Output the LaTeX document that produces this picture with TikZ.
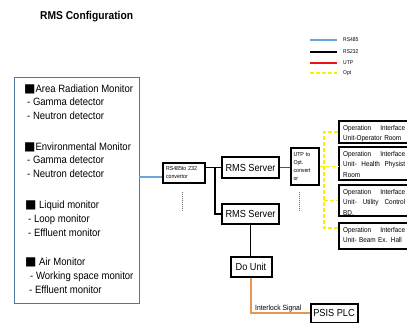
\documentclass[tikz,border=0pt]{standalone}
\usepackage{fontspec}
\setmainfont{Liberation Sans}[FakeStretch=0.9]
\newfontfamily\symfont{DejaVu Sans}
\definecolor{busblue}{RGB}{110,165,215}
\definecolor{frameblue}{RGB}{80,120,165}
\definecolor{utpred}{RGB}{235,20,20}
\definecolor{optyellow}{RGB}{250,240,0}
\definecolor{sigorange}{RGB}{232,150,80}
\definecolor{dotgray}{RGB}{110,110,110}
\newcommand\sqmark{{\symfont\fontsize{12}{12}\selectfont■}}
\begin{document}
\begin{tikzpicture}[x=1pt,y=-1pt,
  every node/.style={inner sep=0pt},
  unitbox/.style={draw=black,line width=2pt,fill=white},
  thinbox/.style={draw=black,line width=1.3pt,fill=white},
  rs485/.style={draw=busblue,line width=1.8pt},
  rs232/.style={draw=black,line width=1.8pt},
  utp/.style={draw=utpred,line width=1.8pt},
  opt/.style={draw=optyellow,line width=1.5pt,dash pattern=on 4pt off 2pt},
  sig/.style={draw=sigorange,line width=1.1pt},
  dotline/.style={draw=dotgray,line width=0.8pt,dash pattern=on 1pt off 1pt},
  montext/.style={anchor=base west,font=\fontsize{10.6}{12}\selectfont},
  smalltext/.style={font=\fontsize{5.8}{8}\selectfont,align=left},
  oiutext/.style={anchor=north west,text width=62pt,align=left,font=\fontsize{7.1}{10.5}\selectfont},
  unitlabel/.style={font=\fontsize{10.2}{12}\selectfont},
]
\useasboundingbox (0,0) rectangle (407,323);
\clip (0,0) rectangle (407,323);

% title
\node[anchor=base west,font=\bfseries\fontsize{11.4}{13}\selectfont] (title) at (40,20) {RMS Configuration};

% legend
\foreach \y/\s/\t in {40/rs485/RS485,52/rs232/RS232,63/utp/UTP,73/opt/Opt}{
  \draw[\s,line width=1.5pt] (310,\y) -- (337,\y);
  \node[anchor=west,font=\fontsize{5.5}{6}\selectfont] (leg\t) at (343,\y) {\t};
}

% monitor list
\node[draw=frameblue,line width=0.9pt,minimum width=125pt,minimum height=226pt] (mon) at (76.5,190) {};
\node[montext] (m1)  at (24,92.5)  {\sqmark Area Radiation Monitor};
\node[montext] (m2)  at (27,106)   {- Gamma detector};
\node[montext] (m3)  at (27,119.5) {- Neutron detector};
\node[montext] (m4)  at (24,150.5) {\sqmark Environmental Monitor};
\node[montext] (m5)  at (27,164)   {- Gamma detector};
\node[montext] (m6)  at (27,177.5) {- Neutron detector};
\node[montext] (m7)  at (25,208.5) {\sqmark\ Liquid monitor};
\node[montext] (m8)  at (28,222.5) {- Loop monitor};
\node[montext] (m9)  at (28,236.5) {- Effluent monitor};
\node[montext] (m10) at (25,265.5) {\sqmark\ Air Monitor};
\node[montext] (m11) at (30,279.5) {- Working space monitor};
\node[montext] (m12) at (29,293.5) {- Effluent monitor};

% converters and servers
\node[thinbox,minimum width=42pt,minimum height=20pt,text width=36pt,smalltext] (conv) at (184,173) {RS485to 232\\convertor};
\node[unitbox,line width=2.4pt,minimum width=57pt,minimum height=21pt,unitlabel] (srv1) at (250.5,167.5) {RMS Server};
\node[unitbox,line width=2.4pt,minimum width=57pt,minimum height=20pt,unitlabel] (srv2) at (250.5,214) {RMS Server};
\node[thinbox,minimum width=28pt,minimum height=37pt,text width=23pt,smalltext] (utp) at (305,166.5) {UTP to\\Opt.\\convert\\or};

% operation interface units
\node[unitbox,minimum width=73pt,minimum height=22pt] (oiu1) at (375.5,132) {};
\node[unitbox,minimum width=73pt,minimum height=33pt] (oiu2) at (375.5,163.5) {};
\node[unitbox,minimum width=73pt,minimum height=31pt] (oiu3) at (375.5,200.5) {};
\node[unitbox,minimum width=73pt,minimum height=26pt] (oiu4) at (375.5,236) {};
\node[oiutext] (t1) at (343,124.7) {Operation\hfill Interface\\Unit-Operator Room};
\node[oiutext] (t2) at (343,150.7) {Operation\hfill Interface\\Unit-\hfill Health\hfill Physist\\Room};
\node[oiutext] (t3) at (343,188.7) {Operation\hfill Interface\\Unit-\hfill Utility\hfill Control\\BD.};
\node[oiutext] (t4) at (343,226.7) {Operation\hfill Interface\\Unit- Beam Ex. Hall};

% digital output and interlock
\node[unitbox,minimum width=41pt,minimum height=20pt,unitlabel] (do) at (251,267) {Do Unit};
\node[unitbox,minimum width=47pt,minimum height=19pt,unitlabel] (psis) at (334,313) {PSIS PLC};
\node[anchor=base west,font=\fontsize{7.5}{9}\selectfont] (ilk) at (255,310) {Interlock Signal};

% connectors
\coordinate (b1) at ([yshift=-4pt]conv.west);
\draw[rs485] (b1 -| mon.east) -- (b1);
\coordinate (jct) at (215,0);
\draw[rs232] (conv.east |- srv1.west) -- (srv1.west);
\draw[rs232] (srv1.west -| jct) |- (srv2.west);
\draw[rs232] (srv2.south) -- (srv2.south |- do.north);
\draw[utp] (srv1.east) -- (srv1.east -| utp.west);
\coordinate (ybus) at (324,0);
\coordinate (o4) at ([yshift=8pt]oiu4.west);
\draw[opt] (oiu1.west) -- (oiu1.west -| ybus) -- (o4 -| ybus) -- (o4);
\draw[opt] (utp.east) -- (utp.east -| oiu2.west);
\draw[opt] (oiu3.west -| ybus) -- (oiu3.west);
\draw[sig] (do.south) |- (psis.west);
\draw[dotline] ([xshift=-2pt,yshift=-8pt]conv.south) -- ([xshift=-2pt,yshift=-28pt]conv.south);
\draw[dotline] ([xshift=-6pt,yshift=-6pt]utp.south) -- ([xshift=-6pt,yshift=-25pt]utp.south);
\end{tikzpicture}
\end{document}
